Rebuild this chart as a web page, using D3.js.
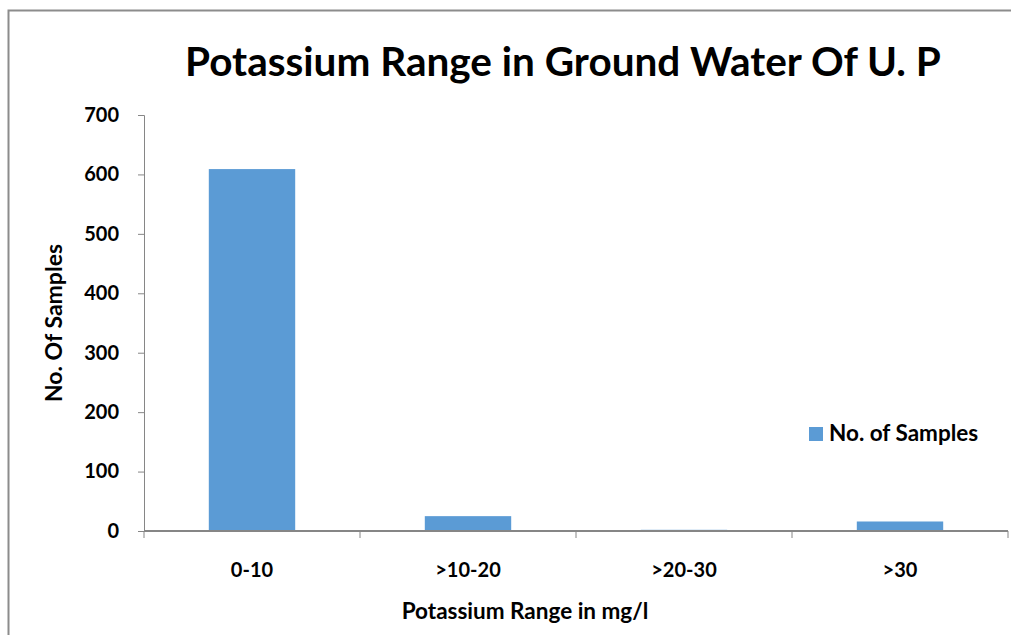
<!DOCTYPE html>
<html>
<head>
<meta charset="utf-8">
<script src="https://cdn.jsdelivr.net/npm/d3@7"></script>
<style>
  body { margin: 0; background: #fff; }
  svg text { font-family: Lato, "Open Sans", sans-serif; font-weight: bold; fill: #000; }
</style>
</head>
<body>
<div id="chart"></div>
<script>
"use strict";

var categories = ["0-10", ">10-20", ">20-30", ">30"];
var samples = [609, 25, 2, 16];
var yTicks = [0, 100, 200, 300, 400, 500, 600, 700];
var seriesName = "No. of Samples";

var width = 1011, height = 635;
var margin = { left: 144, right: 3, top: 115, bottom: 104 };

var svg = d3.select("#chart").append("svg")
    .attr("width", width)
    .attr("height", height);

// outer chart frame
svg.append("rect")
    .attr("x", 8.5).attr("y", 10.5)
    .attr("width", 1020).attr("height", 700)
    .attr("fill", "none")
    .attr("stroke", "#8c8c8c")
    .attr("stroke-width", 2);

var x = d3.scaleBand()
    .domain(categories)
    .range([margin.left, width - margin.right])
    .paddingInner(0.6)
    .paddingOuter(0.3);

var y = d3.scaleLinear()
    .domain([0, 700])
    .range([height - margin.bottom, margin.top]);

// bars
svg.append("g")
    .selectAll("rect")
    .data(samples)
    .enter().append("rect")
    .attr("x", function (d, i) { return x(categories[i]); })
    .attr("y", function (d) { return y(d); })
    .attr("width", x.bandwidth())
    .attr("height", function (d) { return y(0) - y(d); })
    .attr("fill", "#5b9bd5");

// y axis
var yAxis = svg.append("g")
    .attr("transform", "translate(" + margin.left + ",0)")
    .call(d3.axisLeft(y).tickValues(yTicks).tickSize(6).tickPadding(19));
yAxis.select(".domain").attr("stroke", "#868686");
yAxis.selectAll(".tick line").attr("stroke", "#868686");
yAxis.selectAll(".tick text").style("font-size", "20px");

// x axis with ticks at band edges
var step = x.step();
var edges = [margin.left];
categories.forEach(function (c) { edges.push(x(c) - x.paddingInner() * step / 2 + step); });

var xAxis = svg.append("g")
    .attr("transform", "translate(0," + y(0) + ")");
xAxis.append("line")
    .attr("x1", margin.left).attr("x2", width - margin.right)
    .attr("stroke", "#868686").attr("stroke-width", 2);
xAxis.selectAll(".edge")
    .data(edges)
    .enter().append("line")
    .attr("class", "edge")
    .attr("x1", function (d) { return d; })
    .attr("x2", function (d) { return d; })
    .attr("y1", 0).attr("y2", 7)
    .attr("stroke", "#868686");
xAxis.selectAll(".cat")
    .data(categories)
    .enter().append("text")
    .attr("class", "cat")
    .attr("x", function (d) { return x(d) + x.bandwidth() / 2; })
    .attr("y", 46)
    .attr("text-anchor", "middle")
    .style("font-size", "20px")
    .text(function (d) { return d; });

// title
svg.append("text")
    .attr("x", 563).attr("y", 76)
    .attr("text-anchor", "middle")
    .style("font-size", "40.5px")
    .text("Potassium Range in Ground Water Of U. P");

// axis titles
svg.append("text")
    .attr("x", 525).attr("y", 619)
    .attr("text-anchor", "middle")
    .style("font-size", "22.5px")
    .text("Potassium Range in mg/l");

svg.append("text")
    .attr("transform", "translate(62,323) rotate(-90)")
    .attr("text-anchor", "middle")
    .style("font-size", "23px")
    .text("No. Of Samples");

// legend
var legend = svg.append("g").attr("transform", "translate(809,427)");
legend.append("rect")
    .attr("width", 14).attr("height", 14)
    .attr("fill", "#5b9bd5");
legend.append("text")
    .attr("x", 20).attr("y", 14)
    .style("font-size", "22.5px")
    .text(seriesName);
</script>
</body>
</html>
